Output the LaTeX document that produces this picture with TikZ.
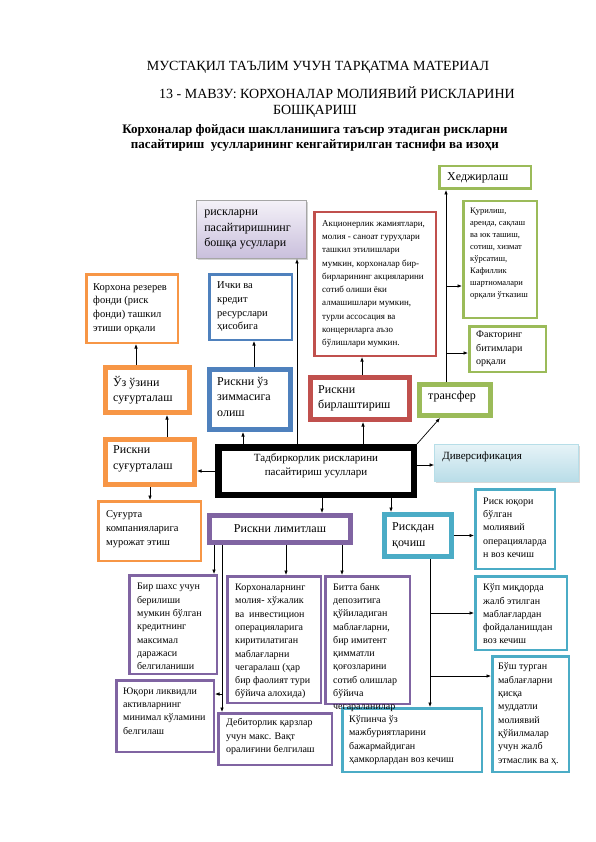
\documentclass[tikz,border=0pt]{standalone}
\usepackage{fontspec}
\setmainfont{Liberation Serif}
\usetikzlibrary{arrows.meta,shadows}
\definecolor{cOr}{HTML}{F79646}
\definecolor{cBl}{HTML}{4F81BD}
\definecolor{cRd}{HTML}{C0504D}
\definecolor{cGr}{HTML}{9BBB59}
\definecolor{cPu}{HTML}{8064A2}
\definecolor{cTe}{HTML}{4BACC6}
\definecolor{cLavTop}{HTML}{F4F1F8}
\definecolor{cLavBot}{HTML}{C9BFDC}
\definecolor{cDivTop}{HTML}{E6F3F7}
\definecolor{cDivBot}{HTML}{B9DDE8}
\definecolor{cDivLn}{HTML}{B7DEE8}
\begin{document}
\begin{tikzpicture}[x=1pt,y=-1pt,
  box/.style={rectangle, inner sep=0pt, fill=white},
  bthin/.style={box, line width=2.5pt},
  bthick/.style={box, line width=5pt},
  txt/.style={inner sep=0pt, align=left, anchor=west, text=black},
  fA/.style={font=\fontsize{12}{15.5}\selectfont},
  fB/.style={font=\fontsize{10.5}{13.7}\selectfont},
  fC/.style={font=\fontsize{10}{13.3}\selectfont},
  fD/.style={font=\fontsize{9}{13.3}\selectfont},
  fE/.style={font=\fontsize{8.5}{11.9}\selectfont},
  fM/.style={font=\fontsize{11}{14}\selectfont},
  ttl/.style={inner sep=0pt, font=\fontsize{14}{16}\selectfont},
  ttlb/.style={inner sep=0pt, font=\bfseries\fontsize{13}{16}\selectfont},
  ln/.style={line width=0.7pt, black},
  arr/.style={ln, -{Latex[length=4.5pt,width=3.6pt]}}
]
\useasboundingbox (0,0) rectangle (596,842);
\fill[white] (0,0) rectangle (596,842);

% titles
\node[ttl] (t1) at (318,67) {МУСТАҚИЛ ТАЪЛИМ УЧУН ТАРҚАТМА МАТЕРИАЛ};
\node[ttl] (t2) at (337,93) {13 - МАВЗУ: КОРХОНАЛАР МОЛИЯВИЙ РИСКЛАРИНИ};
\node[ttl] (t3) at (315,111) {БОШҚАРИШ};
\node[ttlb] (t4) at (315,130) {Корхоналар фойдаси шаклланишига таъсир этадиган рискларни};
\node[ttlb] (t5) at (315,145) {пасайтириш\ \ усулларининг кенгайтирилган таснифи ва изоҳи};

% boxes
\node[bthin, draw=cGr, minimum width=91.5, minimum height=22.5] (hedj) at (485,177.5) {};
\node[box, draw=black!35, line width=0.8pt, top color=cLavTop, bottom color=cLavBot,
      drop shadow={shadow xshift=1.5pt, shadow yshift=-1.5pt, opacity=0.35},
      minimum width=110, minimum height=58] (other) at (251.5,229.5) {};
\node[bthin, draw=cRd, minimum width=121.5, minimum height=143.5] (aksi) at (375,284) {};
\node[bthin, draw=cGr, minimum width=73.5, minimum height=116.5] (qur) at (500,259.5) {};
\node[bthin, draw=cGr, minimum width=76.5, minimum height=45.5] (fakt) at (507.5,349) {};
\node[bthin, draw=cOr, minimum width=91.5, minimum height=68.5] (rez) at (132,308.5) {};
\node[bthin, draw=cBl, minimum width=82.5, minimum height=65.5] (ichki) at (250.5,307) {};
\node[bthick, draw=cOr, minimum width=84, minimum height=45] (uz) at (147.5,390) {};
\node[bthick, draw=cBl, minimum width=81, minimum height=60] (zimma) at (250,399.5) {};
\node[bthick, draw=cRd, minimum width=99, minimum height=42] (birl) at (360,398.5) {};
\node[bthick, draw=cGr, minimum width=71, minimum height=31] (trans) at (455,400) {};
\node[bthick, draw=cOr, minimum width=89, minimum height=45] (rsug) at (150,462) {};
\node[box, draw=black, line width=6.5pt, minimum width=195.5, minimum height=47.5] (center) at (316,471) {};
\node[box, draw=cDivLn, line width=0.8pt, top color=cDivTop, bottom color=cDivBot,
      drop shadow={shadow xshift=1.5pt, shadow yshift=-1.5pt, opacity=0.3},
      minimum width=144, minimum height=37] (div) at (506.5,463) {};
\node[bthin, draw=cOr, minimum width=102.5, minimum height=59.5] (sugurta) at (149.5,531) {};
\node[bthick, draw=cPu, minimum width=141, minimum height=27] (limit) at (280,529) {};
\node[bthick, draw=cTe, minimum width=67, minimum height=42] (qoch) at (418,535.5) {};
\node[bthin, draw=cTe, minimum width=79.5, minimum height=79.5] (yuqori) at (515,529) {};
\node[bthin, draw=cPu, minimum width=87.5, minimum height=98.5] (birshaxs) at (173,624.5) {};
\node[bthin, draw=cPu, minimum width=93.5, minimum height=126.5] (korxmol) at (274,639.5) {};
\node[bthin, draw=cPu, minimum width=84.5, minimum height=127.5] (bitta) at (367.5,640) {};
\node[bthin, draw=cPu, minimum width=97.5, minimum height=71.5] (yuqlik) at (165,716) {};
\node[bthin, draw=cPu, minimum width=113.5, minimum height=51.5] (debit) at (275,739) {};
\node[bthin, draw=cTe, minimum width=139.5, minimum height=63.5] (kupincha) at (412,740) {};
\node[bthin, draw=cTe, minimum width=91.5, minimum height=73.5] (kup) at (521,613) {};
\node[bthin, draw=cTe, minimum width=76.5, minimum height=115.5] (bush) at (530.5,714) {};

% connectors
\draw[arr] (center.west) -- (center.west -| rsug.east);
\draw[arr] (167,0 |- rsug.north) -- (167,0 |- uz.south);
\draw[arr] (136,0 |- uz.north) -- (136,0 |- rez.south);
\draw[arr] (150,0 |- rsug.south) -- (150,0 |- sugurta.north);
\draw[arr] (243,0 |- center.north) -- (243,0 |- zimma.south);
\draw[arr] (254,0 |- zimma.north) -- (254,0 |- ichki.south);
\draw[arr] (297,0 |- center.north) -- (297,0 |- other.south);
\draw[arr] (363,0 |- center.north) -- (363,0 |- birl.south);
\draw[arr] (362,0 |- birl.north) -- (362,0 |- aksi.south);
\draw[arr] (center.north east) -- (440,0 |- trans.south);
\draw[arr] (446,0 |- trans.north) -- (446,0 |- hedj.south);
\coordinate (h1) at (446,286);
\coordinate (h2) at (446,353);
\draw[arr] (h1) -- (h1 -| qur.west);
\draw[arr] (h2) -- (h2 -| fakt.west);
\coordinate (dv) at (417,465);
\draw[arr] (dv) -- (dv -| div.west);
\draw[arr] (322,0 |- center.south) -- (322,0 |- limit.north);
\draw[arr] (391,0 |- center.south) -- (391,0 |- qoch.north);
\draw[arr] (qoch.east) -- (qoch.east -| yuqori.west);
\draw[arr] (430,0 |- qoch.south) -- (430,0 |- kupincha.north);
\coordinate (q1) at (430,613);
\coordinate (q2) at (430,676);
\draw[arr] (q1) -- (q1 -| kup.west);
\draw[arr] (q2) -- (q2 -| bush.west);
\draw[arr] (214,0 |- limit.south) -- (214,0 |- birshaxs.north);
\draw[arr] (222,0 |- limit.south) -- (222,0 |- debit.north);
\coordinate (l1) at (222,694);
\draw[arr] (l1) -- (l1 -| yuqlik.east);
\draw[arr] (286,0 |- limit.south) -- (286,0 |- korxmol.north);
\draw[arr] (342,0 |- limit.south) -- (342,0 |- bitta.north);

% texts
\node[txt, fA] (hedj-t) at ([xshift=9pt]hedj.west) {Хеджирлаш};
\node[txt, fA] (other-t) at ([xshift=8pt]other.west) {рискларни\\пасайтиришнинг\\бошқа усуллари};
\node[txt, fD] (aksi-t) at ([xshift=9pt]aksi.west) {Акционерлик жамиятлари,\\молия - саноат гуруҳлари\\ташкил этилишлари\\мумкин, корхоналар бир-\\бирларининг акцияларини\\сотиб олиши ёки\\алмашишлари мумкин,\\турли ассосация ва\\концернларга аъзо\\бўлишлари мумкин.};
\node[txt, fE] (qur-t) at ([xshift=8pt,yshift=6pt]qur.west) {Қурилиш,\\аренда, сақлаш\\ва юк ташиш,\\сотиш, хизмат\\кўрсатиш,\\Кафиллик\\шартномалари\\орқали ўтказиш};
\node[txt, fC] (fakt-t) at ([xshift=8pt]fakt.west) {Факторинг\\битимлари\\орқали};
\node[txt, fB] (rez-t) at ([xshift=8pt]rez.west) {Корхона резерев\\фонди (риск\\фонди) ташкил\\этиши орқали};
\node[txt, fB] (ichki-t) at ([xshift=9pt]ichki.west) {Ички ва\\кредит\\ресурслари\\ҳисобига};
\node[txt, fA] (uz-t) at ([xshift=10pt]uz.west) {Ўз ўзини\\суғурталаш};
\node[txt, fA] (zimma-t) at ([xshift=10pt,yshift=3pt]zimma.west) {Рискни ўз\\зиммасига\\олиш};
\node[txt, fA] (birl-t) at ([xshift=10pt]birl.west) {Рискни\\бирлаштириш};
\node[txt, fA] (trans-t) at ([xshift=11pt,yshift=3pt]trans.west) {трансфер};
\node[txt, fA] (rsug-t) at ([xshift=10pt,yshift=3pt]rsug.west) {Рискни\\суғурталаш};
\node[inner sep=0pt, align=center, fM] (center-t) at ([yshift=5pt]center.center) {Тадбиркорлик рискларини\\пасайтириш усуллари};
\node[txt, fM] (div-t) at ([xshift=8pt,yshift=6pt]div.west) {Диверсификация};
\node[txt, fB] (sugurta-t) at ([xshift=9pt,yshift=2pt]sugurta.west) {Суғурта\\компанияларига\\мурожат этиш};
\node[inner sep=0pt, fA] (limit-t) at (limit.center) {Рискни лимитлаш};
\node[txt, fA] (qoch-t) at ([xshift=10pt]qoch.west) {Рискдан\\қочиш};
\node[txt, fC] (yuqori-t) at ([xshift=9pt,yshift=1.5pt]yuqori.west) {Риск юқори\\бўлган\\молиявий\\операцияларда\\н воз кечиш};
\node[txt, fC] (birshaxs-t) at ([xshift=9pt,yshift=-2pt]birshaxs.west) {Бир шахс учун\\берилиши\\мумкин бўлган\\кредитнинг\\максимал\\даражаси\\белгиланиши};
\node[txt, fC] (korxmol-t) at ([xshift=9pt,yshift=-2pt]korxmol.west) {Корхоналарнинг\\молия- хўжалик\\ва\ \ инвестицион\\операцияларига\\киритилатиган\\маблағларни\\чегаралаш (ҳар\\бир фаолият тури\\бўйича алохида)};
\node[txt, fC] (bitta-t) at ([xshift=9pt,yshift=-7.5pt]bitta.west) {Битта банк\\депозитига\\қўйиладиган\\маблағларни,\\бир имитент\\қимматли\\қоғозларини\\сотиб олишлар\\бўйича\\чегараланилар};
\node[txt, fC] (yuqlik-t) at ([xshift=8pt,yshift=5pt]yuqlik.west) {Юқори ликвидли\\активларнинг\\минимал кўламини\\белгилаш};
\node[txt, fC] (debit-t) at ([xshift=9pt,yshift=2.5pt]debit.west) {Дебиторлик қарзлар\\учун макс. Вақт\\оралиғини белгилаш};
\node[txt, fC] (kupincha-t) at ([xshift=8pt]kupincha.west) {Кўпинча ўз\\мажбуриятларини\\бажармайдиган\\ҳамкорлардан воз кечиш};
\node[txt, fC] (kup-t) at ([xshift=9pt,yshift=-1pt]kup.west) {Кўп миқдорда\\жалб этилган\\маблағлардан\\фойдаланишдан\\воз кечиш};
\node[txt, fC] (bush-t) at ([xshift=7pt]bush.west) {Бўш турган\\маблағларни\\қисқа\\муддатли\\молиявий\\қўйилмалар\\учун жалб\\этмаслик ва ҳ.};
\end{tikzpicture}
\end{document}
